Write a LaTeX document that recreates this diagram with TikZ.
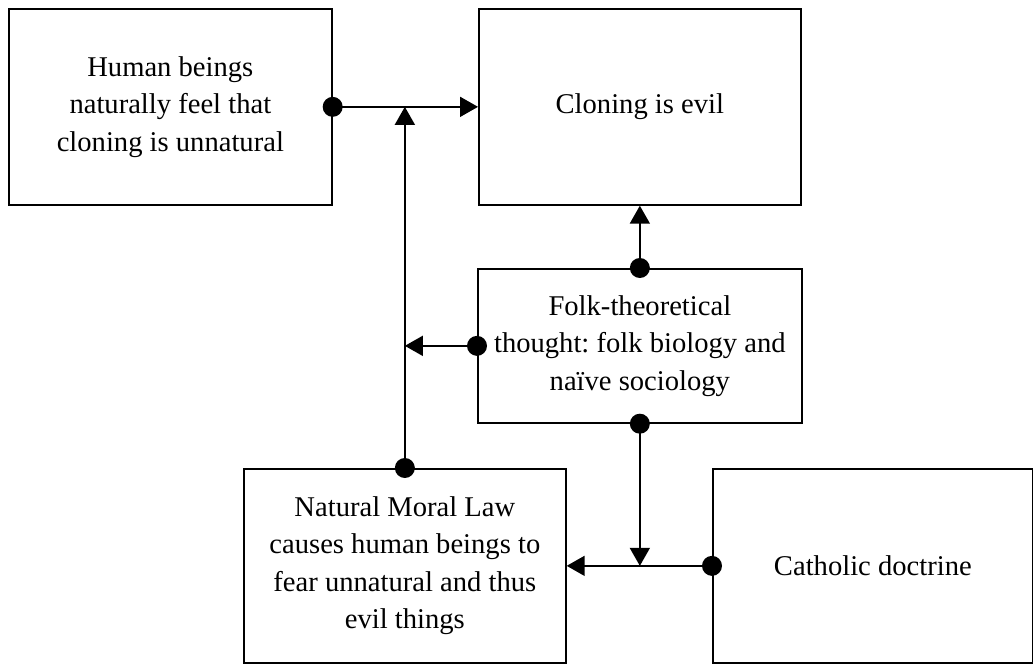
\documentclass[tikz,border=0pt]{standalone}
\usepackage{fontspec}
\setmainfont{Liberation Serif}
\frenchspacing
\usetikzlibrary{arrows.meta}
\begin{document}
\begin{tikzpicture}[x=1pt,y=-1pt,
  box/.style={draw, line width=1.7pt, align=center, anchor=north west,
    font=\fontsize{28.6}{37.5}\selectfont, inner sep=0pt},
  link/.style={line width=1.7pt, -{Triangle[length=18pt,width=20pt]}},
  knob/.style={fill=black, circle, inner sep=0pt, minimum size=20pt}]
\useasboundingbox (0,0) rectangle (1033,664);

% boxes
\node[box, minimum width=323pt, minimum height=196pt] (human) at (8,8)
  {Human beings\\naturally feel that\\cloning is unnatural};
\node[box, minimum width=322pt, minimum height=196pt] (evil) at (478,8)
  {Cloning is evil};
\node[box, minimum width=324pt, minimum height=154pt] (folk) at (477,268)
  {Folk-theoretical\\thought: folk biology and\\naïve sociology};
\node[box, minimum width=322pt, minimum height=194pt] (law) at (243,468)
  {Natural Moral Law\\causes human beings to\\fear unnatural and thus\\evil things};
\node[box, minimum width=320pt, minimum height=194pt] (cath) at (712,468)
  {Catholic doctrine};

% connectors
\draw[link] (human.east) -- (evil.west);
\draw[link] (law.north) -- (law.north |- human.east);
\draw[link] (folk.west) -- (law.north |- folk.west);
\draw[link] (folk.north) -- (folk.north |- evil.south);
\draw[link] (cath.west) -- (law.east);
\draw[link] (folk.south) -- (folk.south |- cath.west);

% start dots
\foreach \p in {human.east, law.north, folk.west, folk.north, folk.south, cath.west}
  \node[knob] at (\p) {};
\end{tikzpicture}
\end{document}
